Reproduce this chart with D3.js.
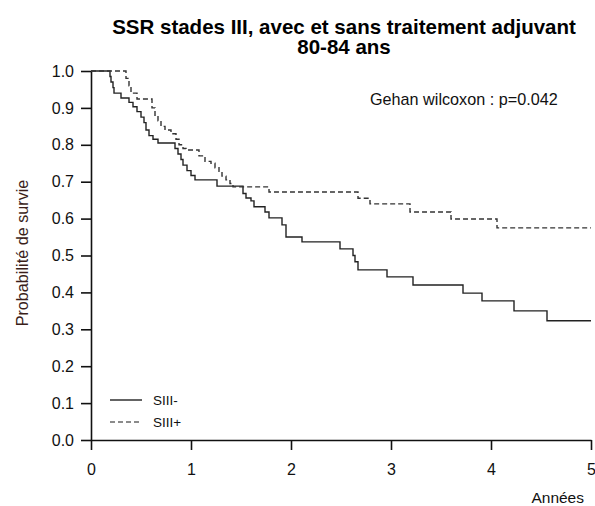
<!DOCTYPE html>
<html lang="fr">
<head>
<meta charset="UTF-8">
<title>SSR stades III 80-84 ans</title>
<script src="https://d3js.org/d3.v7.min.js"></script>
<style>
  body { margin: 0; background: #fff; }
  svg { font-family: "Liberation Sans", Arial, sans-serif; }
</style>
</head>
<body>
<svg></svg>
<script>
// Kaplan-Meier steps (time in years, survival)
const timesMinus = [0, 0.19, 0.20, 0.22, 0.23, 0.30, 0.38, 0.42, 0.46, 0.50, 0.53, 0.55, 0.58, 0.62, 0.67,
  0.84, 0.87, 0.90, 0.92, 0.96, 1.00, 1.04, 1.26, 1.52, 1.55, 1.60, 1.63, 1.74, 1.78, 1.91, 1.95,
  2.11, 2.49, 2.62, 2.64, 2.67, 2.96, 3.22, 3.72, 3.91, 4.23, 4.56, 5.0]
const survMinus = [1.0, 0.985, 0.97, 0.955, 0.94, 0.927, 0.915, 0.903, 0.89, 0.875, 0.86, 0.84, 0.825, 0.815, 0.805,
  0.79, 0.775, 0.76, 0.745, 0.73, 0.717, 0.705, 0.688, 0.668, 0.656, 0.648, 0.632, 0.618, 0.602, 0.583, 0.55,
  0.537, 0.518, 0.50, 0.483, 0.461, 0.442, 0.42, 0.398, 0.377, 0.35, 0.323, 0.323]

const timesPlus = [0, 0.35, 0.38, 0.40, 0.46, 0.61, 0.64, 0.67, 0.70, 0.74, 0.80, 0.85, 0.88, 0.92, 0.95,
  1.08, 1.14, 1.20, 1.24, 1.28, 1.31, 1.35, 1.39, 1.42, 1.78, 2.67, 2.79, 3.19, 3.60, 4.06, 5.0]
const survPlus = [1.0, 0.98, 0.96, 0.94, 0.924, 0.90, 0.88, 0.865, 0.85, 0.84, 0.83, 0.815, 0.80, 0.79, 0.786,
  0.77, 0.755, 0.75, 0.738, 0.728, 0.715, 0.705, 0.695, 0.686, 0.672, 0.655, 0.64, 0.618, 0.599, 0.575, 0.575]

const xTicks = [0, 1, 2, 3, 4, 5]
const yTicks = [0, 0.1, 0.2, 0.3, 0.4, 0.5, 0.6, 0.7, 0.8, 0.9, 1.0]
const legendLabels = ['SIII-', 'SIII+']
const titleLines = ['SSR stades III, avec et sans traitement adjuvant', '80-84 ans']

const width = 595, height = 506

const svg = d3.select('svg')
  .attr('width', width)
  .attr('height', height)

const x = d3.scaleLinear().domain([0, 5]).range([91, 591])
const y = d3.scaleLinear().domain([0, 1]).range([440, 71])

// title, two lines
svg.selectAll('text.title')
  .data(titleLines)
  .join('text')
  .attr('class', 'title')
  .attr('x', 344)
  .attr('y', (d, i) => 34 + i * 19.5)
  .attr('text-anchor', 'middle')
  .attr('font-size', 20.5).attr('font-weight', 'bold')
  .text(d => d)

// axes
svg.append('g')
  .attr('transform', 'translate(0,440)')
  .call(d3.axisBottom(x).tickValues(xTicks).tickFormat(d3.format('d'))
    .tickSize(10).tickSizeOuter(0).tickPadding(14))
svg.append('g')
  .attr('transform', 'translate(91,0)')
  .call(d3.axisLeft(y).tickValues(yTicks).tickFormat(d3.format('.1f'))
    .tickSize(10).tickSizeOuter(0).tickPadding(7))

svg.selectAll('.tick text').attr('font-size', 16).attr('fill', '#111')
  .attr('font-family', '"Liberation Sans", Arial, sans-serif')
svg.selectAll('.domain, .tick line').attr('stroke', '#111').attr('stroke-width', 1.6)

svg.append('text')
  .attr('x', 584).attr('y', 503)
  .attr('text-anchor', 'end')
  .attr('font-size', 15.5).attr('fill', '#111')
  .text('Années')

svg.append('text')
  .attr('transform', 'translate(28,253) rotate(-90)')
  .attr('text-anchor', 'middle')
  .attr('font-size', 16.2).attr('fill', '#3a1e1a')
  .text('Probabilité de survie')

// curves
const line = d3.line()
  .x(d => x(d[0]))
  .y(d => y(d[1]))
  .curve(d3.curveStepAfter)

svg.append('path')
  .datum(d3.zip(timesMinus, survMinus))
  .attr('d', line)
  .attr('fill', 'none')
  .attr('stroke', '#222')
  .attr('stroke-width', 1.4)

svg.append('path')
  .datum(d3.zip(timesPlus, survPlus))
  .attr('d', line)
  .attr('fill', 'none')
  .attr('stroke', '#333')
  .attr('stroke-width', 1.4)
  .attr('stroke-dasharray', '5,3')

svg.append('text')
  .attr('x', 370).attr('y', 105)
  .attr('font-size', 16.2).attr('fill', '#111')
  .text('Gehan wilcoxon : p=0.042')

// legend
const legend = svg.append('g')
legendLabels.forEach((lab, i) => {
  const ly = 400 + i * 22
  legend.append('line')
    .attr('x1', 110).attr('x2', 142)
    .attr('y1', ly).attr('y2', ly)
    .attr('stroke', i === 0 ? '#222' : '#666')
    .attr('stroke-width', 1.4)
    .attr('stroke-dasharray', i === 0 ? null : '5,3')
  legend.append('text')
    .attr('x', 153).attr('y', ly + 5)
    .attr('font-size', 13.5).attr('fill', '#111')
    .text(lab)
})
</script>
</body>
</html>
